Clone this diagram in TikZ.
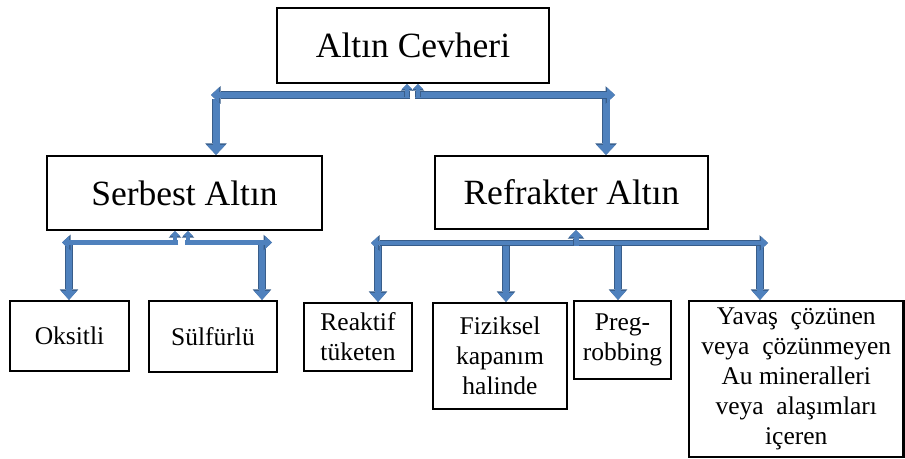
\documentclass[tikz,border=0pt]{standalone}
\usepackage{fontspec}
\setmainfont{Liberation Serif}
\usetikzlibrary{arrows.meta}
\definecolor{af}{HTML}{4F81BD}
\definecolor{ad}{HTML}{385D8A}
% Block arrow: #1 shaft width, #2 head width, #3 head length (all in pt), #4 path.
% A slightly larger dark copy underneath gives the thin outline.
\newcommand\blockarrow[4]{%
  \pgfmathsetmacro\baW{#1+1.4}\pgfmathsetmacro\baHW{#2+2.6}\pgfmathsetmacro\baHL{#3+1.5}%
  \draw[draw=ad, line width=\baW pt, -{Triangle[width=\baHW pt,length=\baHL pt,line width=0pt]}] #4;
  \draw[draw=af, line width=#1pt, -{Triangle[width=#2pt,length=#3pt,line width=0pt]}] #4;}
\begin{document}
\begin{tikzpicture}[x=1pt,y=-1pt,
  box/.style={draw=black, line width=2.2pt, inner sep=0pt, align=center, fill=white},
  big/.style={box, font=\fontsize{35.5}{40}\selectfont},
  small/.style={box, font=\fontsize{25.5}{30}\selectfont},
]
\useasboundingbox (0,0) rectangle (905,458);

% boxes
\node[big, minimum width=272pt, minimum height=75pt] (top) at (413,45.5) {Altın Cevheri};
\node[big, minimum width=275pt, minimum height=74pt] (serb) at (184.5,193) {Serbest Altın};
\node[big, minimum width=273pt, minimum height=73pt] (refr) at (571.5,192.5) {Refrakter Altın};
\node[small, minimum width=119pt, minimum height=70pt] (oks) at (69.5,336) {Oksitli};
\node[small, minimum width=128pt, minimum height=71pt] (sul) at (213,336.5) {Sülfürlü};
\node[small, minimum width=108pt, minimum height=68pt] (rea) at (358,337) {Reaktif\\tüketen};
\node[small, minimum width=134pt, minimum height=106pt] (fiz) at (500,356) {Fiziksel\\kapanım\\halinde};
\node[small, minimum width=97pt, minimum height=78pt] (preg) at (622.5,340) {Preg-\\robbing};
\node[small, minimum width=214.5pt, minimum height=156pt] (yav) at (796.25,379)
  {Yavaş\ \ çözünen\\veya\ \ çözünmeyen\\Au mineralleri\\veya\ \ alaşımları\\içeren};

% first level: Altın Cevheri -> Serbest / Refrakter
\coordinate (v1l) at (216,98.5);
\coordinate (v1r) at (606,98.5);
\blockarrow{7}{19}{10}{(v1l) -- (v1l |- serb.north)}
\blockarrow{7}{19}{10}{(v1r) -- (v1r |- refr.north)}
\coordinate (h1l) at (410,95);  \coordinate (h1le) at (211,95);
\coordinate (h1r) at (415,95);  \coordinate (h1re) at (615,95);
\blockarrow{6}{15}{8}{(h1l) -- (h1le)}
\blockarrow{6}{15}{8}{(h1r) -- (h1re)}
\coordinate (u1l) at (407,97);
\coordinate (u1r) at (418,97);
\blockarrow{4}{10}{5}{(u1l) -- (u1l |- top.south)}
\blockarrow{4}{10}{5}{(u1r) -- (u1r |- top.south)}

% second level: Serbest Altın -> Oksitli / Sülfürlü
\coordinate (v2l) at (69,245);
\coordinate (v2r) at (262,245);
\blockarrow{6}{16}{9}{(v2l) -- (v2l |- oks.north)}
\blockarrow{6}{16}{9}{(v2r) -- (v2r |- sul.north)}
\coordinate (h2l) at (178,242.5);  \coordinate (h2le) at (62,242.5);
\coordinate (h2r) at (185,242.5);  \coordinate (h2re) at (272,242.5);
\blockarrow{4.5}{13}{7}{(h2l) -- (h2le)}
\blockarrow{4.5}{13}{7}{(h2r) -- (h2re)}
\coordinate (u2l) at (175,244.5);
\coordinate (u2r) at (188,244.5);
\blockarrow{3.5}{10}{5}{(u2l) -- (u2l |- serb.south)}
\blockarrow{3.5}{10}{5}{(u2r) -- (u2r |- serb.south)}

% third level: Refrakter Altın -> four kinds
\coordinate (v3a) at (378,246);
\coordinate (v3b) at (506,246);
\coordinate (v3c) at (618,246);
\coordinate (v3d) at (760,246);
\blockarrow{6}{16}{9}{(v3a) -- (v3a |- rea.north)}
\blockarrow{6}{16}{9}{(v3b) -- (v3b |- fiz.north)}
\blockarrow{6}{16}{9}{(v3c) -- (v3c |- preg.north)}
\blockarrow{6}{16}{9}{(v3d) -- (v3d |- yav.north)}
\coordinate (h3) at (576,243);  \coordinate (h3le) at (371,243);  \coordinate (h3re) at (768,243);
\blockarrow{4.5}{13}{7}{(h3) -- (h3le)}
\blockarrow{4.5}{13}{7}{(h3) -- (h3re)}
\coordinate (u3) at (576,245.5);
\blockarrow{5}{14}{7}{(u3) -- (u3 |- refr.south)}
\end{tikzpicture}
\end{document}
